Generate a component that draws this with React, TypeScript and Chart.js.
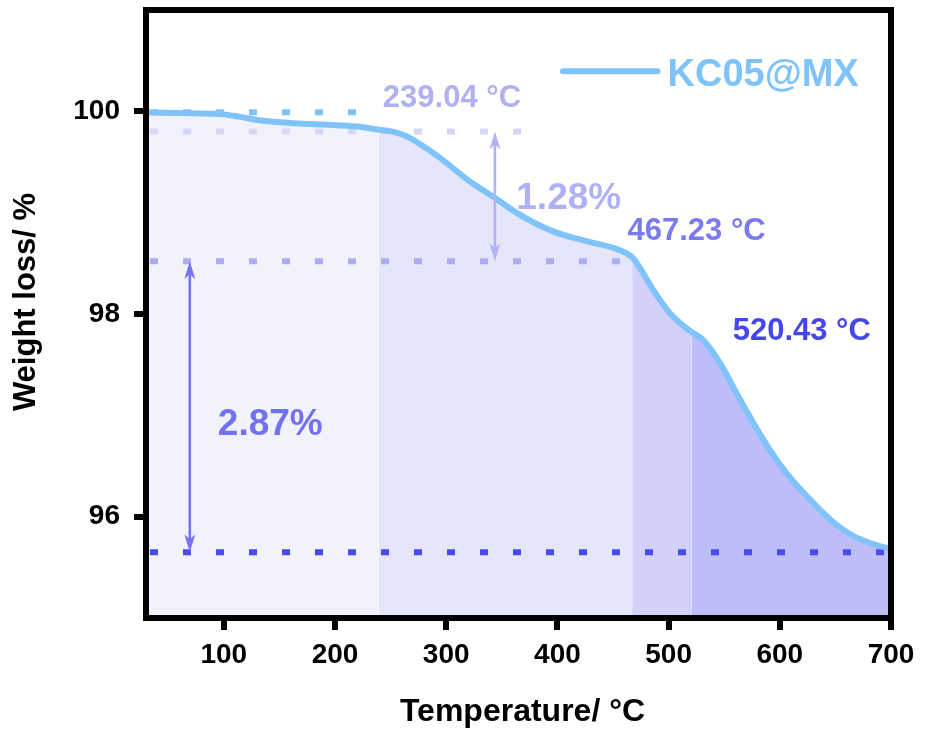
import React, { useEffect, useRef } from "react";
import { Chart, registerables } from "chart.js";

Chart.register(...registerables);

// ---- data ----
const temperature = [30, 70, 100, 115, 130, 160, 190, 220, 239.04, 252, 265, 292, 321, 344, 366, 396, 426, 456, 467.23, 475, 486, 501, 516, 520.43, 531, 546, 561, 576, 591, 606, 621, 636, 651, 666, 681, 700];
const weightLoss = [99.99, 99.98, 99.97, 99.945, 99.915, 99.885, 99.87, 99.85, 99.82, 99.8, 99.75, 99.56, 99.31, 99.145, 98.98, 98.815, 98.72, 98.63, 98.56, 98.44, 98.24, 98.01, 97.86, 97.825, 97.745, 97.52, 97.22, 96.93, 96.66, 96.43, 96.24, 96.07, 95.92, 95.81, 95.74, 95.68];

const xTicks = [100, 200, 300, 400, 500, 600, 700];
const yTicks = [96, 98, 100];

const stageTemps = [239.04, 467.23, 520.43];
const stageFills = ["#f2f2fd", "#e6e6fb", "#d1d1fa", "#bdbdfa"];

const dashLevels = [99.99, 99.8, 98.52, 95.65];
const dashEnds = [225, 375, 467.23, 700];
const dashColors = ["#7fc3f9", "#d6d6f7", "#acacf1", "#4a4af3"];

const arrowX = [343.8, 69.4];
const arrowFrom = [99.8, 98.52];
const arrowTo = [98.52, 95.65];
const arrowColors = ["#b2b2f4", "#7474f2"];

const labelTexts = ["239.04 °C", "1.28%", "467.23 °C", "520.43 °C", "2.87%"];
const labelX = [243, 363, 463, 557.6, 94.6];
const labelY = [100.04, 99.04, 98.73, 97.745, 96.81];
const labelSizes = [31, 37, 31, 31, 37];
const labelColors = ["#b0b0f2", "#b0b0f4", "#7b7bf0", "#4646ee", "#7272f0"];

const seriesName = "KC05@MX";
const curveColor = "#7fc3f9";
const FONT = '"Liberation Sans", Arial, sans-serif';

function drawArrowHead(ctx: CanvasRenderingContext2D, x: number, yTip: number, dir: number) {
  const len = 18, half = 5.5, notch = 5;
  ctx.beginPath();
  ctx.moveTo(x, yTip);
  ctx.lineTo(x - half, yTip - dir * len);
  ctx.lineTo(x, yTip - dir * (len - notch));
  ctx.lineTo(x + half, yTip - dir * len);
  ctx.closePath();
  ctx.fill();
}

const overlayPlugin = {
  id: "overlay",
  afterDatasetsDraw(chart: any) {
    const { ctx, chartArea, scales } = chart;
    const xs = scales.x, ys = scales.y;
    ctx.save();
    arrowX.forEach((t, i) => {
      const px = xs.getPixelForValue(t);
      const y1 = ys.getPixelForValue(arrowFrom[i]);
      const y2 = ys.getPixelForValue(arrowTo[i]);
      ctx.strokeStyle = arrowColors[i];
      ctx.fillStyle = arrowColors[i];
      ctx.lineWidth = 2.6;
      ctx.beginPath();
      ctx.moveTo(px, y1 + 10);
      ctx.lineTo(px, y2 - 10);
      ctx.stroke();
      drawArrowHead(ctx, px, y1, -1);
      drawArrowHead(ctx, px, y2, 1);
    });
    ctx.textBaseline = "alphabetic";
    ctx.textAlign = "left";
    labelTexts.forEach((txt, i) => {
      ctx.font = `bold ${labelSizes[i]}px ${FONT}`;
      ctx.fillStyle = labelColors[i];
      ctx.fillText(txt, xs.getPixelForValue(labelX[i]), ys.getPixelForValue(labelY[i]));
    });
    const lx1 = xs.getPixelForValue(405), lx2 = xs.getPixelForValue(490);
    const ly = ys.getPixelForValue(100.395);
    ctx.strokeStyle = curveColor;
    ctx.lineWidth = 6;
    ctx.lineCap = "round";
    ctx.beginPath();
    ctx.moveTo(lx1, ly);
    ctx.lineTo(lx2, ly);
    ctx.stroke();
    ctx.lineCap = "butt";
    ctx.font = `bold 38px ${FONT}`;
    ctx.fillStyle = curveColor;
    ctx.fillText(seriesName, xs.getPixelForValue(499), ys.getPixelForValue(100.25));
    ctx.strokeStyle = "#000";
    ctx.lineWidth = 6;
    ctx.strokeRect(chartArea.left, chartArea.top, chartArea.right - chartArea.left, chartArea.bottom - chartArea.top);
    ctx.fillStyle = "#000";
    ctx.font = `bold 32px ${FONT}`;
    ctx.textAlign = "center";
    ctx.fillText("Temperature/ °C", (chartArea.left + chartArea.right) / 2 + 4, chartArea.bottom + 103);
    ctx.save();
    ctx.translate(35, (chartArea.top + chartArea.bottom) / 2 - 12);
    ctx.rotate(-Math.PI / 2);
    ctx.font = `bold 31px ${FONT}`;
    ctx.fillText("Weight loss/ %", 0, 0);
    ctx.restore();
    ctx.restore();
  },
};

function stageColor(t: number) {
  for (let i = 0; i < stageTemps.length; i++) if (t < stageTemps[i] - 1e-6) return stageFills[i];
  return stageFills[stageFills.length - 1];
}

export default function App() {
  const ref = useRef<HTMLCanvasElement | null>(null);
  useEffect(() => {
    if (!ref.current) return;
    const curve = temperature.map((t, i) => ({ x: t, y: weightLoss[i] }));
    const dashSets = dashLevels.map((lvl, i) => ({
      type: "line" as const,
      data: [{ x: 30, y: lvl }, { x: dashEnds[i], y: lvl }],
      borderColor: dashColors[i],
      borderWidth: 6,
      borderDash: [8, 25],
      borderDashOffset: -4,
      borderCapStyle: "butt" as const,
      pointRadius: 0,
      fill: false,
    }));
    const chart = new Chart(ref.current, {
      type: "line",
      data: {
        datasets: [
          {
            label: seriesName,
            data: curve,
            borderColor: curveColor,
            borderWidth: 6,
            pointRadius: 0,
            cubicInterpolationMode: "monotone",
            fill: "start",
            backgroundColor: stageFills[0],
            segment: {
              backgroundColor: (c: any) => stageColor(c.p0.parsed.x),
            },
          } as any,
          ...dashSets,
        ],
      },
      options: {
        responsive: false,
        animation: false,
        events: [],
        layout: { autoPadding: false, padding: { left: 0, top: 10, right: 39, bottom: 0 } },
        plugins: {
          legend: { display: false },
          tooltip: { enabled: false },
          filler: { drawTime: "beforeDatasetsDraw" } as any,
        },
        scales: {
          x: {
            type: "linear",
            min: 30,
            max: 700,
            afterFit: (s: any) => { s.height = 113; s.paddingLeft = 0; s.paddingRight = 0; },
            afterBuildTicks: (s: any) => { s.ticks = xTicks.map((v) => ({ value: v })); },
            border: { display: false },
            grid: { drawOnChartArea: false, drawTicks: true, tickLength: 12, tickWidth: 6, tickColor: "#000", lineWidth: 6, color: "#000" },
            ticks: { color: "#000", font: { family: FONT, size: 28, weight: "bold" }, padding: 8, maxRotation: 0 },
          },
          y: {
            type: "linear",
            min: 95,
            max: 101,
            afterFit: (s: any) => { s.width = 146; s.paddingTop = 0; s.paddingBottom = 0; },
            afterBuildTicks: (s: any) => { s.ticks = yTicks.map((v) => ({ value: v })); },
            border: { display: false },
            grid: { drawOnChartArea: false, drawTicks: true, tickLength: 12, tickWidth: 6, tickColor: "#000", lineWidth: 6, color: "#000" },
            ticks: { color: "#000", font: { family: FONT, size: 28, weight: "bold" }, padding: 14 },
          },
        },
      },
      plugins: [overlayPlugin],
    });
    return () => chart.destroy();
  }, []);
  return (
    <div style={{ position: "absolute", left: 0, top: 0, width: 930, height: 731, background: "#fff" }}>
      <canvas ref={ref} width={930} height={731} style={{ display: "block", width: 930, height: 731 }} />
    </div>
  );
}
